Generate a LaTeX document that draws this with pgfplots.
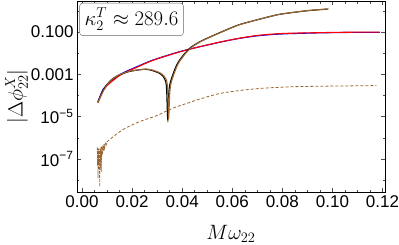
\documentclass[border=0pt]{standalone}
\usepackage{fontspec}
\setmainfont{Liberation Sans}
\usepackage{pgfplots}
\usepackage{pgfplotstable}
\pgfplotsset{compat=1.18}
\definecolor{mbrown}{rgb}{0.6,0.4,0.2}
\definecolor{mblue}{rgb}{0,0,1}
\definecolor{mred}{rgb}{1,0,0}
% y values given as log10 of |Delta phi|
\pgfplotstableread{
x ly
0.00636 -4.29
0.00834 -3.72
0.00993 -3.49
0.0151 -3.01
0.0219 -2.64
0.0282 -2.33
0.0369 -2.00
0.0429 -1.81
0.0500 -1.62
0.0560 -1.46
0.0630 -1.30
0.0695 -1.19
0.0760 -1.12
0.0826 -1.08
0.0957 -1.04
0.1080 -1.02
0.1190 -1.02
}\blue
\pgfplotstableread{
x ly
0.00640 -4.32
0.00840 -3.76
0.0100 -3.53
0.0152 -3.04
0.0220 -2.66
0.0283 -2.34
0.0370 -2.01
0.0430 -1.81
0.0500 -1.61
0.0560 -1.45
0.0630 -1.29
0.0695 -1.17
0.0760 -1.10
0.0826 -1.06
0.0957 -1.03
0.1080 -1.01
0.1190 -1.01
}\red
\pgfplotstableread{
x ly
0.00636 -4.33
0.00834 -3.82
0.01033 -3.44
0.01232 -3.20
0.0151 -3.01
0.01907 -2.85
0.0230 -2.78
0.0258 -2.75
0.0282 -2.80
0.0310 -2.92
0.0326 -3.06
0.0338 -3.30
0.0342 -3.72
0.0346 -5.04
0.0350 -3.96
0.0354 -3.49
0.0362 -3.16
0.0377 -2.68
0.0389 -2.40
0.0413 -2.02
0.0441 -1.69
0.0481 -1.41
0.0520 -1.20
0.0560 -0.99
0.0628 -0.66
0.0695 -0.44
0.0787 -0.17
0.0866 -0.04
0.0918 0.03
0.0985 0.09
}\brown
\pgfplotstableread{
x ly
0.00630 -4.33
0.00820 -3.82
0.01010 -3.46
0.01210 -3.22
0.0148 -3.03
0.01870 -2.87
0.0226 -2.79
0.0254 -2.76
0.0278 -2.81
0.0306 -2.93
0.0322 -3.07
0.0334 -3.32
0.0338 -3.74
0.0342 -5.04
0.0346 -3.98
0.0350 -3.50
0.0358 -3.17
0.0373 -2.69
0.0385 -2.41
0.0409 -2.03
0.0437 -1.70
0.0477 -1.42
0.0516 -1.21
0.0556 -1.00
0.0624 -0.67
0.0691 -0.45
0.0783 -0.18
0.0862 -0.05
0.0914 0.02
0.0981 0.08
}\black
\pgfplotstableread{
x ly
0.0061 -6.45
0.0062 -7.3
0.0063 -6.6
0.0064 -7.9
0.0065 -6.5
0.0066 -7.5
0.0067 -6.8
0.0068 -7.2
0.0069 -6.5
0.0070 -7.8
0.0071 -8.3
0.0072 -6.6
0.0073 -7.4
0.0074 -6.5
0.0075 -7.0
0.0076 -6.4
0.0077 -7.6
0.0078 -6.6
0.0079 -6.9
0.0080 -6.4
0.0082 -6.8
0.0084 -6.35
0.0086 -6.6
0.0088 -6.3
0.0090 -6.5
0.0093 -6.25
0.0096 -6.35
0.0100 -6.2
}\noise
\pgfplotstableread{
x ly
0.0100 -6.2
0.0111 -6.07
0.0163 -5.61
0.0230 -5.23
0.0298 -4.95
0.0362 -4.60
0.0429 -4.33
0.0469 -4.17
0.0560 -3.88
0.0695 -3.68
0.0826 -3.59
0.0957 -3.56
0.1176 -3.53
}\dashedc
\begin{document}
\begin{tikzpicture}
\begin{axis}[
  scale only axis, width=308pt, height=191pt,
  xmin=-0.002, xmax=0.121,
  ymode=log, ymin=2.8e-9, ymax=2.9,
  xtick={0,0.02,0.04,0.06,0.08,0.1,0.12},
  xticklabels={0.00,0.02,0.04,0.06,0.08,0.10,0.12},
  minor x tick num=3,
  ytick={1e-7,1e-5,1e-3,1e-1},
  yticklabels={10\textsuperscript{−7},10\textsuperscript{−5},0.001,0.100},
  minor ytick={1e-8,1e-6,1e-4,1e-2,1},
  tick align=inside,
  major tick length=4pt, minor tick length=2.5pt,
  every tick/.style={black!70, line width=0.5pt},
  axis line style={line width=0.8pt},
  tick label style={font=\fontsize{17}{17}\selectfont},
  xlabel={$M\omega_{22}$},
  ylabel={$|\Delta\phi^X_{22}|$},
  label style={font=\fontsize{21}{21}\selectfont},
  xlabel style={at={(axis description cs:0.5,-0.22)}, anchor=center},
  ylabel style={at={(axis description cs:-0.196,0.5)}, anchor=center},
  every axis plot/.append style={line width=1.1pt},
]
\addplot[mblue, no markers, smooth] table[x=x, y expr=10^(\thisrow{ly})] {\blue};
\addplot[mred, no markers, smooth] table[x=x, y expr=10^(\thisrow{ly})] {\red};
\addplot[black, no markers, smooth, tension=0.4] table[x=x, y expr=10^(\thisrow{ly})] {\black};
\addplot[mbrown, no markers, smooth, tension=0.4] table[x=x, y expr=10^(\thisrow{ly})] {\brown};
\addplot[mbrown, no markers, line width=0.7pt, dash pattern=on 2.5pt off 1.5pt] table[x=x, y expr=10^(\thisrow{ly})] {\noise};
\addplot[mbrown, no markers, smooth, line width=0.8pt, dash pattern=on 3pt off 2pt] table[x=x, y expr=10^(\thisrow{ly})] {\dashedc};
\node[draw=black!60, rounded corners=3pt, fill=white, anchor=north west, inner xsep=5pt, inner ysep=5pt, font=\fontsize{22}{22}\selectfont] at (rel axis cs:0.008,0.99) {$\kappa_2^T \approx 289.6$};
\end{axis}
\pgfresetboundingbox
\path[use as bounding box] ([shift={(-77pt,-52pt)}]current axis.south west) rectangle ([shift={(14pt,1pt)}]current axis.north east);
\end{tikzpicture}
\end{document}
